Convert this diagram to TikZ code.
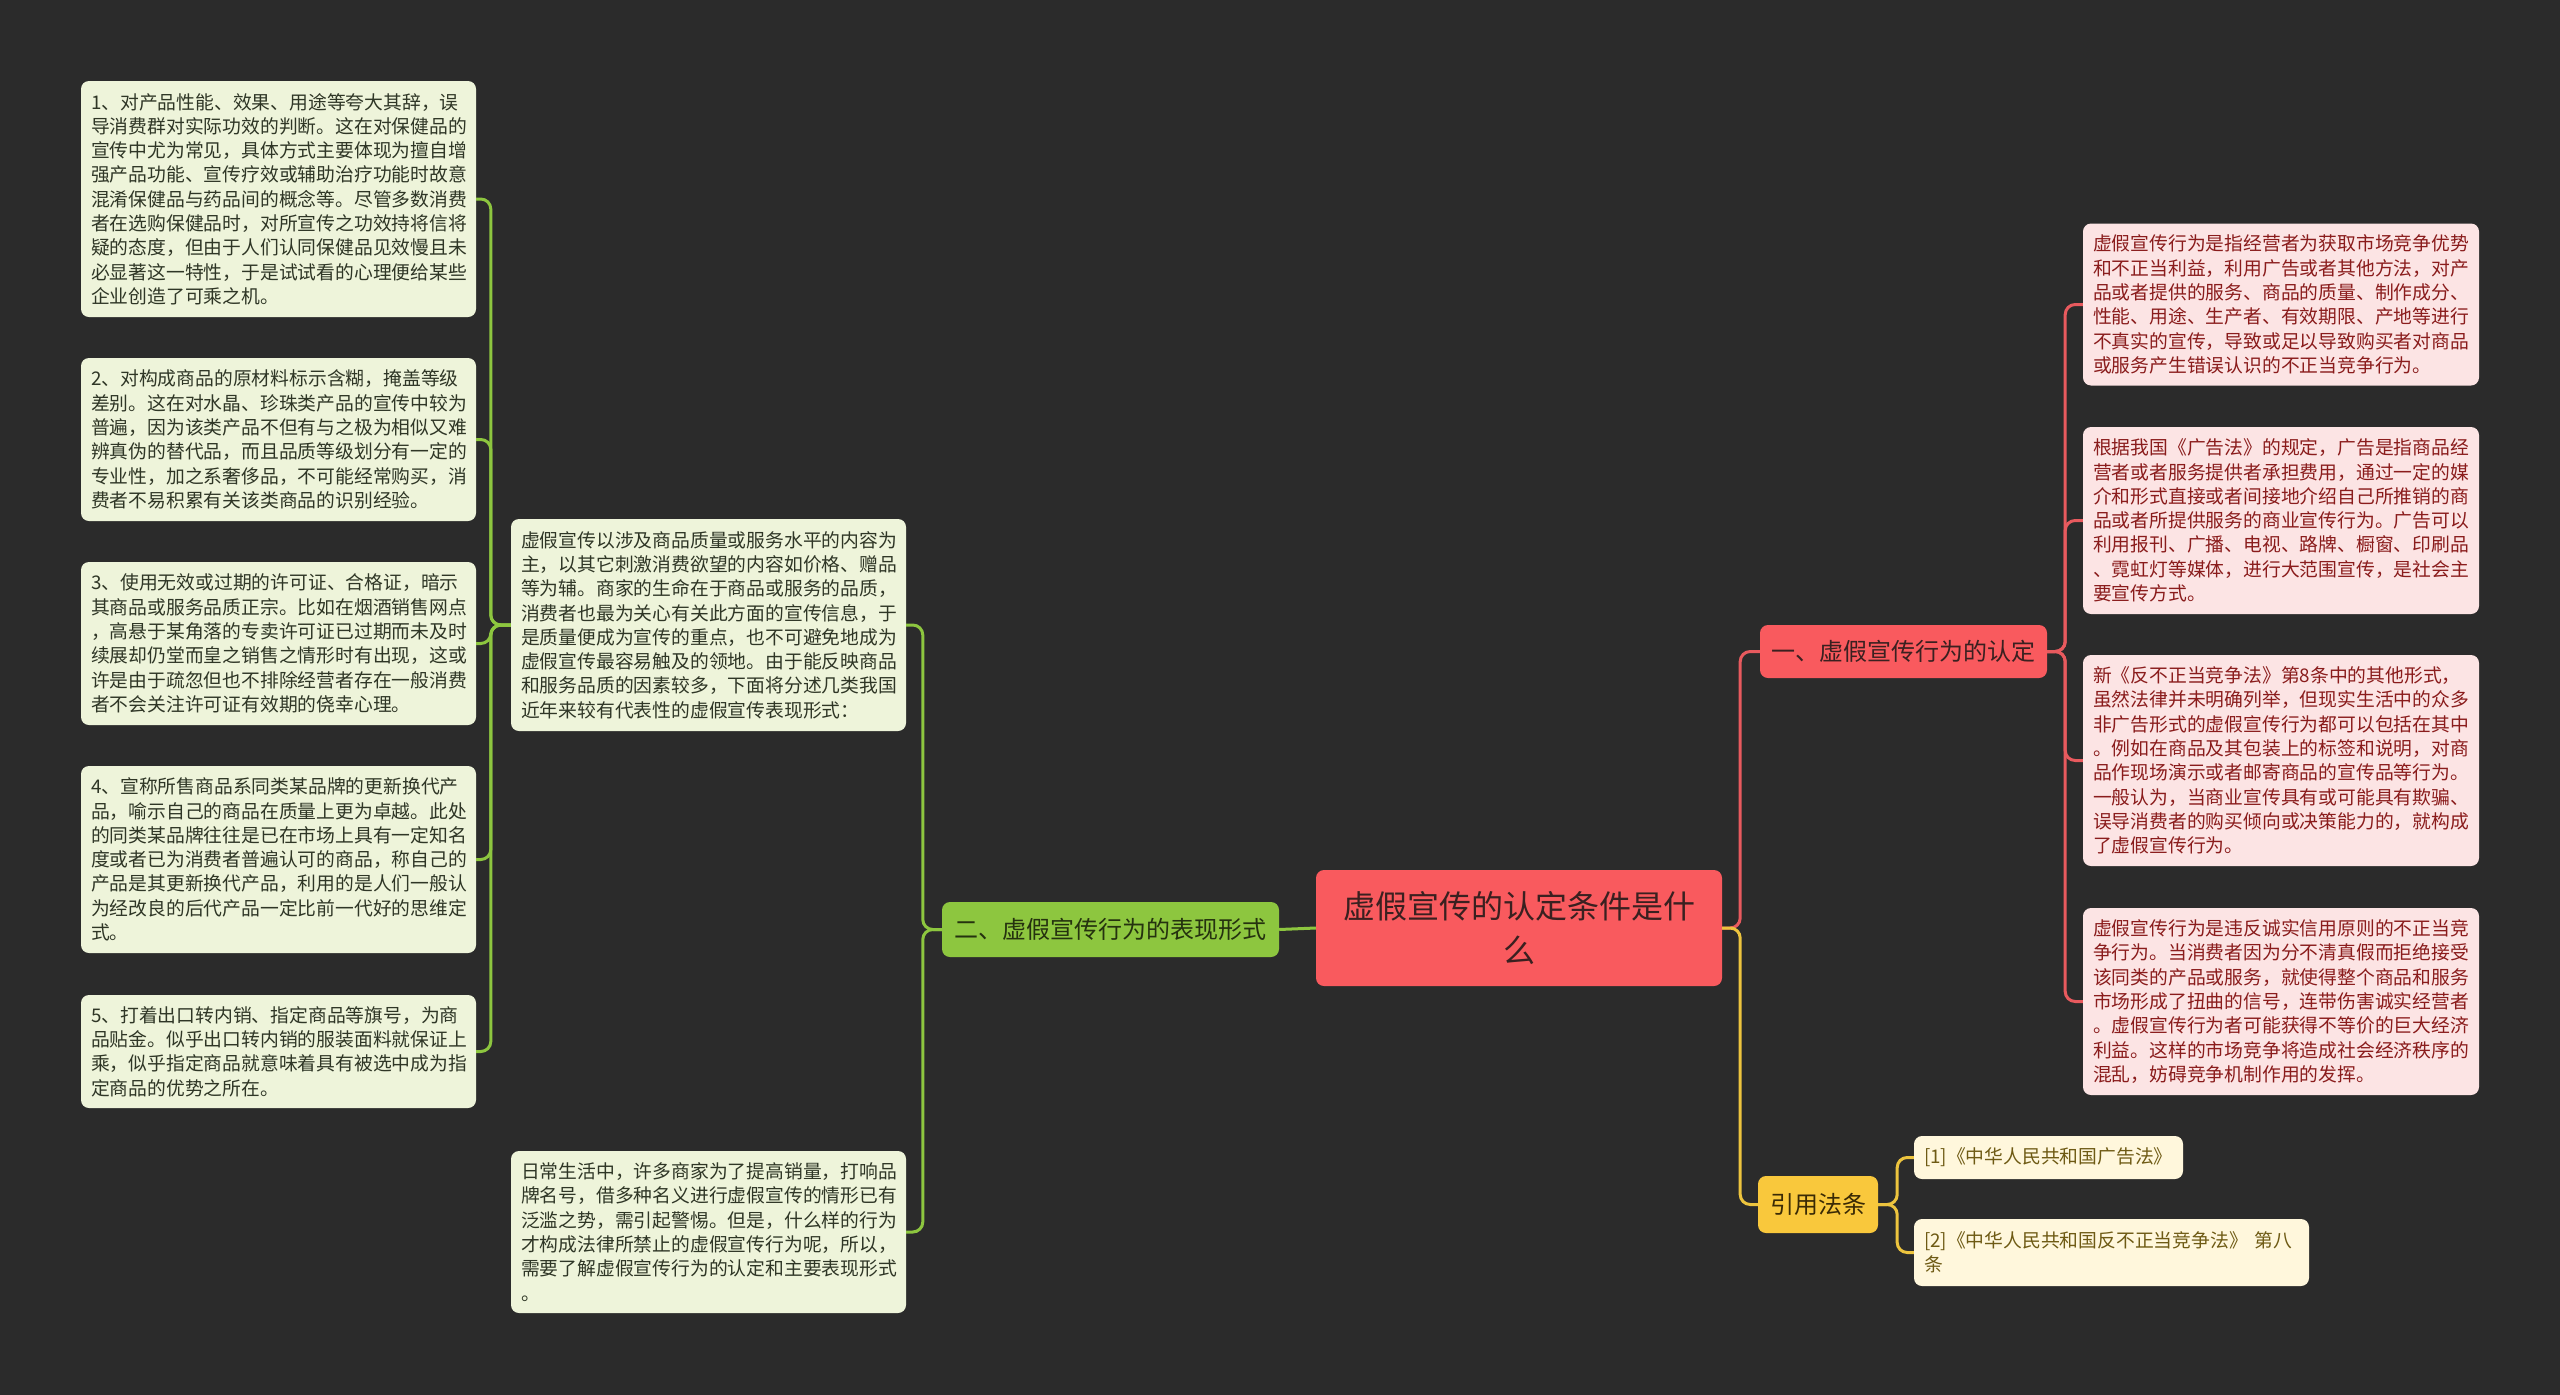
\documentclass[tikz,border=0pt]{standalone}
\usepackage{fontspec}
\setmainfont{Noto Sans CJK SC}
\definecolor{bg}{HTML}{2B2B2B}
\definecolor{gfill}{HTML}{EEF4DA}
\definecolor{gtext}{HTML}{2F3626}
\definecolor{pfill}{HTML}{FCE4E4}
\definecolor{ptext}{HTML}{8A1C1C}
\definecolor{cfill}{HTML}{FFF7DC}
\definecolor{ctext}{HTML}{6E5A14}
\definecolor{rootfill}{HTML}{F95A5E}
\definecolor{rootext}{HTML}{3A2020}
\definecolor{greenfill}{HTML}{8DC63F}
\definecolor{greentext}{HTML}{25320F}
\definecolor{yelfill}{HTML}{F9C83C}
\definecolor{yeltext}{HTML}{3A2A05}
\definecolor{redline}{HTML}{E85A5E}
\definecolor{greenline}{HTML}{8DC63F}
\definecolor{yelline}{HTML}{EDC43E}
\begin{document}
\begin{tikzpicture}[x=1pt,y=-1pt,
  box/.style={rounded corners=8pt, inner xsep=10pt, inner ysep=0pt, align=left, anchor=center, font=\fontsize{18.8}{24.3}\selectfont},
  gbox/.style={box, fill=gfill, text=gtext, text width=375pt},
  pbox/.style={box, fill=pfill, text=ptext, text width=376pt},
  cbox/.style={box, fill=cfill, text=ctext},
  topic/.style={rounded corners=8pt, inner sep=0pt, align=center, anchor=center, font=\fontsize{24}{30}\selectfont},
  conn/.style={line width=3pt, rounded corners=10pt},
]
\fill[bg] (0,0) rectangle (2560,1395);
\useasboundingbox (0,0) rectangle (2560,1395);

% root
\node[topic, fill=rootfill, text=rootext, minimum width=406pt, minimum height=116pt, font=\fontsize{32}{44}\selectfont] (root) at (1519,928) {虚假宣传的认定条件是什\\么};

% main topics
\node[topic, fill=greenfill, text=greentext, minimum width=337pt, minimum height=55pt] (two) at (1110.5,929.5) {二、虚假宣传行为的表现形式};
\node[topic, fill=rootfill, text=rootext, minimum width=287pt, minimum height=53pt] (one) at (1903.5,651.5) {一、虚假宣传行为的认定};
\node[topic, fill=yelfill, text=yeltext, minimum width=120pt, minimum height=57pt] (cite) at (1818,1204.5) {引用法条};

% left column
\node[gbox, minimum height=236pt] (b1) at (278.5,199) {1、对产品性能、效果、用途等夸大其辞，误\\导消费群对实际功效的判断。这在对保健品的\\宣传中尤为常见，具体方式主要体现为擅自增\\强产品功能、宣传疗效或辅助治疗功能时故意\\混淆保健品与药品间的概念等。尽管多数消费\\者在选购保健品时，对所宣传之功效持将信将\\疑的态度，但由于人们认同保健品见效慢且未\\必显著这一特性，于是试试看的心理便给某些\\企业创造了可乘之机。};
\node[gbox, minimum height=163pt] (b2) at (278.5,439.5) {2、对构成商品的原材料标示含糊，掩盖等级\\差别。这在对水晶、珍珠类产品的宣传中较为\\普遍，因为该类产品不但有与之极为相似又难\\辨真伪的替代品，而且品质等级划分有一定的\\专业性，加之系奢侈品，不可能经常购买，消\\费者不易积累有关该类商品的识别经验。};
\node[gbox, minimum height=163pt] (b3) at (278.5,643.5) {3、使用无效或过期的许可证、合格证，暗示\\其商品或服务品质正宗。比如在烟酒销售网点\\，高悬于某角落的专卖许可证已过期而未及时\\续展却仍堂而皇之销售之情形时有出现，这或\\许是由于疏忽但也不排除经营者存在一般消费\\者不会关注许可证有效期的侥幸心理。};
\node[gbox, minimum height=187pt] (b4) at (278.5,859.5) {4、宣称所售商品系同类某品牌的更新换代产\\品，喻示自己的商品在质量上更为卓越。此处\\的同类某品牌往往是已在市场上具有一定知名\\度或者已为消费者普遍认可的商品，称自己的\\产品是其更新换代产品，利用的是人们一般认\\为经改良的后代产品一定比前一代好的思维定\\式。};
\node[gbox, minimum height=113pt] (b5) at (278.5,1051.5) {5、打着出口转内销、指定商品等旗号，为商\\品贴金。似乎出口转内销的服装面料就保证上\\乘，似乎指定商品就意味着具有被选中成为指\\定商品的优势之所在。};

% middle column
\node[gbox, minimum height=212pt] (m1) at (708.5,625) {虚假宣传以涉及商品质量或服务水平的内容为\\主，以其它刺激消费欲望的内容如价格、赠品\\等为辅。商家的生命在于商品或服务的品质，\\消费者也最为关心有关此方面的宣传信息，于\\是质量便成为宣传的重点，也不可避免地成为\\虚假宣传最容易触及的领地。由于能反映商品\\和服务品质的因素较多，下面将分述几类我国\\近年来较有代表性的虚假宣传表现形式：};
\node[gbox, minimum height=162pt] (m2) at (708.5,1232) {日常生活中，许多商家为了提高销量，打响品\\牌名号，借多种名义进行虚假宣传的情形已有\\泛滥之势，需引起警惕。但是，什么样的行为\\才构成法律所禁止的虚假宣传行为呢，所以，\\需要了解虚假宣传行为的认定和主要表现形式\\。};

% right column
\node[pbox, minimum height=162pt] (r1) at (2281,304.5) {虚假宣传行为是指经营者为获取市场竞争优势\\和不正当利益，利用广告或者其他方法，对产\\品或者提供的服务、商品的质量、制作成分、\\性能、用途、生产者、有效期限、产地等进行\\不真实的宣传，导致或足以导致购买者对商品\\或服务产生错误认识的不正当竞争行为。};
\node[pbox, minimum height=187pt] (r2) at (2281,520.5) {根据我国《广告法》的规定，广告是指商品经\\营者或者服务提供者承担费用，通过一定的媒\\介和形式直接或者间接地介绍自己所推销的商\\品或者所提供服务的商业宣传行为。广告可以\\利用报刊、广播、电视、路牌、橱窗、印刷品\\、霓虹灯等媒体，进行大范围宣传，是社会主\\要宣传方式。};
\node[pbox, minimum height=211pt] (r3) at (2281,760.5) {新《反不正当竞争法》第8条中的其他形式，\\虽然法律并未明确列举，但现实生活中的众多\\非广告形式的虚假宣传行为都可以包括在其中\\。例如在商品及其包装上的标签和说明，对商\\品作现场演示或者邮寄商品的宣传品等行为。\\一般认为，当商业宣传具有或可能具有欺骗、\\误导消费者的购买倾向或决策能力的，就构成\\了虚假宣传行为。};
\node[pbox, minimum height=187pt] (r4) at (2281,1001.5) {虚假宣传行为是违反诚实信用原则的不正当竞\\争行为。当消费者因为分不清真假而拒绝接受\\该同类的产品或服务，就使得整个商品和服务\\市场形成了扭曲的信号，连带伤害诚实经营者\\。虚假宣传行为者可能获得不等价的巨大经济\\利益。这样的市场竞争将造成社会经济秩序的\\混乱，妨碍竞争机制作用的发挥。};

% citations
\node[cbox, text width=249pt, minimum height=43pt] (c1) at (2048.5,1157.5) {[1]《中华人民共和国广告法》};
\node[cbox, text width=375pt, minimum height=67pt] (c2) at (2111.5,1252.5) {[2]《中华人民共和国反不正当竞争法》 第八\\条};

% connectors
\draw[conn, greenline] (root.west) -- (two.east);
\draw[conn, redline] (root.east) -- ++(18,0) |- (one.west);
\draw[conn, yelline] (root.east) -- ++(18,0) |- (cite.west);

\foreach \t in {m1,m2} \draw[conn, greenline] (two.west) -- ++(-19,0) |- (\t.east);
\foreach \t in {b1,b2,b3,b4,b5} \draw[conn, greenline] (m1.west) -- ++(-20,0) |- (\t.east);
\foreach \t in {r1,r2,r3,r4} \draw[conn, redline] (one.east) -- ++(18,0) |- (\t.west);
\foreach \t in {c1,c2} \draw[conn, yelline] (cite.east) -- ++(19,0) |- (\t.west);
\end{tikzpicture}
\end{document}
